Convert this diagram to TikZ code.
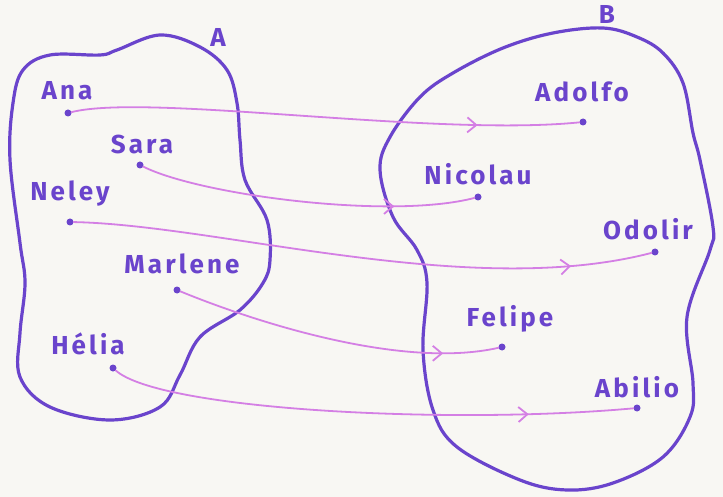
\documentclass[tikz,border=0pt]{standalone}
\usepackage{fontspec}
\setmainfont{Fira Sans}[LetterSpace=12]
\usetikzlibrary{decorations.markings,arrows.meta}

\definecolor{ink}{HTML}{6A44CC}
\definecolor{pen}{HTML}{D47FE4}
\definecolor{paper}{HTML}{F8F7F3}

\begin{document}
\begin{tikzpicture}[x=1pt, y=-1pt, line cap=round, line join=round,
  blob/.style={draw=ink, line width=3.2pt},
  dot/.style={circle, fill=ink, inner sep=0pt, minimum size=7pt},
  lbl/.style={text=ink, font=\fontsize{26}{30}\selectfont\bfseries, inner sep=0pt},
  arr/.style={draw=pen, line width=1.8pt,
    postaction={decorate, decoration={markings, mark=at position #1 with
      {\arrow[pen, line width=1.8pt]{Straight Barb[length=9pt, width=15pt]}}}}}]

  \fill[paper] (0,0) rectangle (723,497);
  \useasboundingbox (0,0) rectangle (723,497);

  % set A
  \draw[blob] plot[smooth cycle, tension=0.6] coordinates {
    (23,70) (50,55) (100,55) (117,50) (160,35) (200,47) (227,70) (237,103)
    (240,140) (245,180) (267,220) (270,260) (263,283) (240,310) (200,337)
    (180,375) (160,407) (110,420) (50,407) (20,377) (20,333) (25,283)
    (20,243) (10,160) (13,103)};
  \node[lbl] (la) at (218,37) {A};

  % set B
  \draw[blob] plot[smooth cycle, tension=0.6] coordinates {
    (420,97) (453,73) (503,48) (553,33) (603,28) (637,37) (663,53) (683,83)
    (693,133) (700,160) (713,227) (710,250) (687,317) (693,383) (690,417)
    (663,457) (613,483) (567,490) (520,480) (457,447) (433,410) (423,350)
    (427,283) (417,250) (393,217) (380,170) (390,137)};
  \node[lbl] (lb) at (607,14) {B};

  % elements of A
  \node[dot] (a1) at (68,113) {};
  \node[lbl] at (67,91) {Ana};
  \node[dot] (a2) at (140,165) {};
  \node[lbl] at (142,144) {Sara};
  \node[dot] (a3) at (70,222) {};
  \node[lbl] at (70,194) {Neley};
  \node[dot] (a4) at (177,290) {};
  \node[lbl] at (182,264) {Marlene};
  \node[dot] (a5) at (113,368) {};
  \node[lbl] at (88,344) {Hélia};

  % elements of B
  \node[dot] (b1) at (583,122) {};
  \node[lbl] at (582,92) {Adolfo};
  \node[dot] (b2) at (478,197) {};
  \node[lbl] at (478,174) {Nicolau};
  \node[dot] (b3) at (655,252) {};
  \node[lbl] at (648,229) {Odolir};
  \node[dot] (b4) at (502,347) {};
  \node[lbl] at (510,319) {Felipe};
  \node[dot] (b5) at (637,408) {};
  \node[lbl] at (637,387) {Abilio};

  % the mapping
  \draw[arr=0.8] (a1) .. controls (148,93) and (433,137) .. (b1);
  \draw[arr=0.76] (a2) .. controls (200,195) and (390,220) .. (b2);
  \draw[arr=0.86] (a3) .. controls (220,225) and (470,300) .. (b3);
  \draw[arr=0.83] (a4) .. controls (250,320) and (400,370) .. (b4);
  \draw[arr=0.8] (a5) .. controls (160,410) and (450,425) .. (b5);

\end{tikzpicture}
\end{document}
